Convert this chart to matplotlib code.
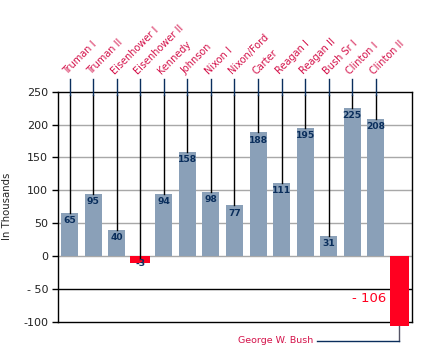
import matplotlib
matplotlib.use("Agg")
import matplotlib.pyplot as plt

categories = ["Truman I", "Truman II", "Eisenhower I", "Eisenhower II", "Kennedy",
              "Johnson", "Nixon I", "Nixon/Ford", "Carter", "Reagan I", "Reagan II",
              "Bush Sr I", "Clinton I", "Clinton II", "George W. Bush"]
# printed values
values = [65, 95, 40, -3, 94, 158, 98, 77, 188, 111, 195, 31, 225, 208, -106]
# bar heights as drawn in the picture (the -3 bar is drawn taller)
bar_heights = [66, 95, 39, -11, 94, 158, 98, 77, 188, 111, 195, 30, 225, 208, -106]
yticks = [250, 200, 150, 100, 50, 0, -50, -100]
ytick_labels = ["250", "200", "150", "100", "50", "0", "- 50", "-100"]

BLUE = "#8aa0b8"
RED = "#ff0020"
NAVY = "#0a2e5c"
CRIMSON = "#d4124a"

fig = plt.figure(figsize=(4.33, 3.58), dpi=100)
ax = fig.add_axes([0.1339, 0.1014, 0.8169, 0.6425])

n = len(values)
xs = list(range(n))
colors = [RED if v < 0 else BLUE for v in bar_heights]
widths = [0.83 if v < 0 else 0.72 for v in bar_heights]
ax.bar(xs, bar_heights, width=widths, color=colors, zorder=3, clip_on=False)

ax.set_xlim(-0.49, 14.52)
ax.set_ylim(-100, 250)

for y in [50, 100, 150, 200, 0]:
    ax.axhline(y, color="#a8a8a8", lw=1.0, zorder=1)
ax.axhline(-50, color="black", lw=1.0, zorder=1)

for s in ax.spines.values():
    s.set_color("black")
    s.set_linewidth(1.0)

ax.set_xticks([])
ax.set_yticks(yticks)
ax.set_yticklabels(ytick_labels, fontsize=8, color="#222222")
ax.tick_params(axis="y", length=4, width=1, color="black", pad=3)
ax.set_ylabel("In Thousands", fontsize=7.3, labelpad=8, color="#222222")

for i, (c, v) in enumerate(zip(categories, values)):
    if i == n - 1:
        continue
    ax.plot([i, i], [v, 245], color="black", lw=1.0, zorder=4, clip_on=False)
    ax.plot([i, i], [245, 269.5], color=NAVY, lw=1.0, zorder=4, clip_on=False)
    ax.annotate(c, xy=(i, 269.5), xytext=(-3, 4.5), textcoords="offset points",
                rotation=45, rotation_mode="anchor", ha="left", va="center",
                fontsize=7, color=CRIMSON, annotation_clip=False)

for i, v in enumerate(values[:-1]):
    y = bar_heights[i] if v > 0 else 0
    ax.annotate(str(v), xy=(i, y), xytext=(0, -5.5), textcoords="offset points",
                ha="center", va="center", fontsize=6.6, fontweight="bold",
                color=NAVY, zorder=6, annotation_clip=False)

# George W. Bush
b = n - 1
vb = bar_heights[b]
ax.text(b - 0.55, -64, "- 106", ha="right", va="center", fontsize=9.5, color=RED)
ax.plot([b, b], [vb, -129], color="#555566", lw=1.0, clip_on=False, zorder=4)
ax.plot([b, 10.5], [-129, -129], color=NAVY, lw=1.0, clip_on=False, zorder=4)
ax.text(10.35, -128.5, categories[b], ha="right", va="center", fontsize=6.8,
        color=CRIMSON)

fig.savefig("out.png", dpi=100)
